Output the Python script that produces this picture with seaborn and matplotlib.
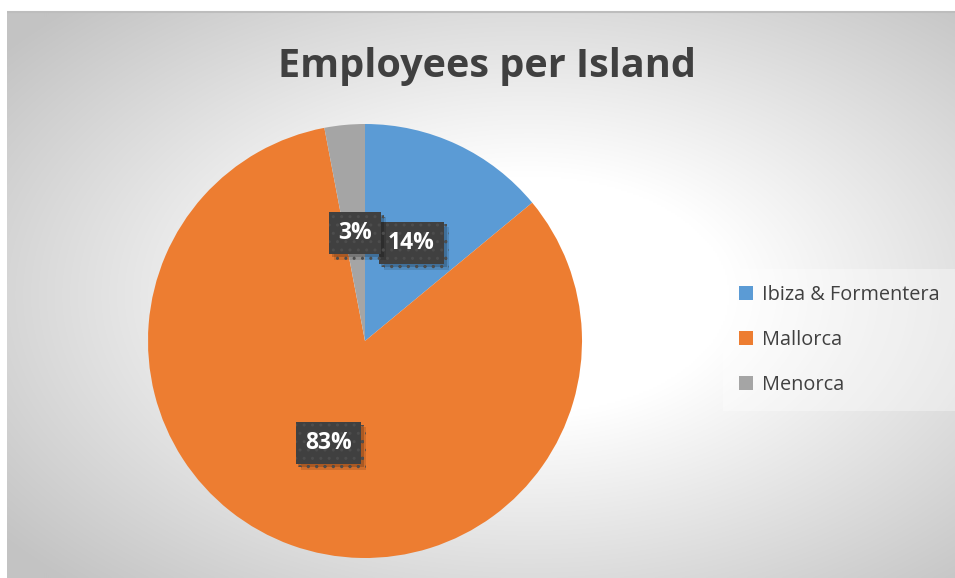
import numpy as np
import matplotlib
matplotlib.use("Agg")
import matplotlib.pyplot as plt
import matplotlib.patheffects as pe
from matplotlib.patches import Patch
import seaborn as sns

sns.set_theme(style="white")
plt.rcParams["font.family"] = ["Open Sans", "DejaVu Sans"]

# Data
islands = ["Ibiza & Formentera", "Mallorca", "Menorca"]
shares = [14, 83, 3]
colors = ["#5b9bd5", "#ed7d31", "#a5a5a5"]
title = "Employees per Island"

W, H = 955, 578
fig = plt.figure(figsize=(W / 100, H / 100), dpi=100)
fig.patch.set_facecolor("white")

# Chart-area background: radial white-to-grey gradient
bg = fig.add_axes([7 / W, 0, (W - 7) / W, (H - 12) / H])
bg.set_axis_off()
ny, nx = 283, 474
yy, xx = np.mgrid[-1:1:ny * 1j, -1:1:nx * 1j]
r = np.sqrt((xx - 0.1) ** 2 + yy ** 2) / np.sqrt(2)
t = np.clip((r - 0.3) / 0.7, 0, 1)
shade = (255 - 60 * t) / 255.0
img = np.dstack([shade, shade, shade])
bg.imshow(img, extent=[0, 1, 0, 1], aspect="auto", interpolation="bilinear")
bg.set_xlim(0, 1)
bg.set_ylim(0, 1)
bg.plot([0, 1], [1, 1], color="#bdbdbd", lw=1.5, solid_capstyle="butt", clip_on=False)

# Pie
cx, cy, rad = 365, 341, 217
ax = fig.add_axes([(cx - rad) / W, (H - cy - rad) / H, 2 * rad / W, 2 * rad / H])
ax.set_axis_off()
wedges, texts, autotexts = ax.pie(
    shares,
    colors=colors,
    startangle=90,
    counterclock=False,
    autopct=lambda p: f"{p:.0f}%",
    pctdistance=0.5,
    radius=1,
    wedgeprops=dict(linewidth=0),
    textprops=dict(color="white", fontsize=16.5, fontweight="bold"),
)
ax.set_xlim(-1, 1)
ax.set_ylim(-1, 1)
ax.set_aspect("equal")

for at in autotexts:
    at.set_bbox(dict(boxstyle="square,pad=0.4", facecolor="#404040",
                     edgecolor="#4d4d4d", linewidth=0, hatch=".."))
    bp = at.get_bbox_patch()
    bp.set_path_effects([
        pe.SimplePatchShadow(offset=(4, -4), shadow_rgbFace="black", alpha=0.12),
        pe.SimplePatchShadow(offset=(2, -2), shadow_rgbFace="black", alpha=0.18),
        pe.Normal(),
    ])

# Title
fig.text(487 / W, 1 - 66 / H, title, ha="center", va="center",
         fontsize=28.5, fontweight="bold", color="#404040")

# Legend
handles = [Patch(facecolor=c, edgecolor="none") for c in colors]
leg = fig.legend(handles, islands, loc="center left",
                 bbox_to_anchor=(723 / W, 1 - 340 / H),
                 frameon=True, fontsize=14.3, labelcolor="#404040",
                 handlelength=0.7, handleheight=0.7, handletextpad=0.45,
                 labelspacing=1.25, borderpad=0.8, borderaxespad=0)
frame = leg.get_frame()
frame.set_facecolor("white")
frame.set_alpha(0.35)
frame.set_edgecolor("none")
frame.set_boxstyle("square", pad=0)

fig.savefig("out.png", dpi=100)
